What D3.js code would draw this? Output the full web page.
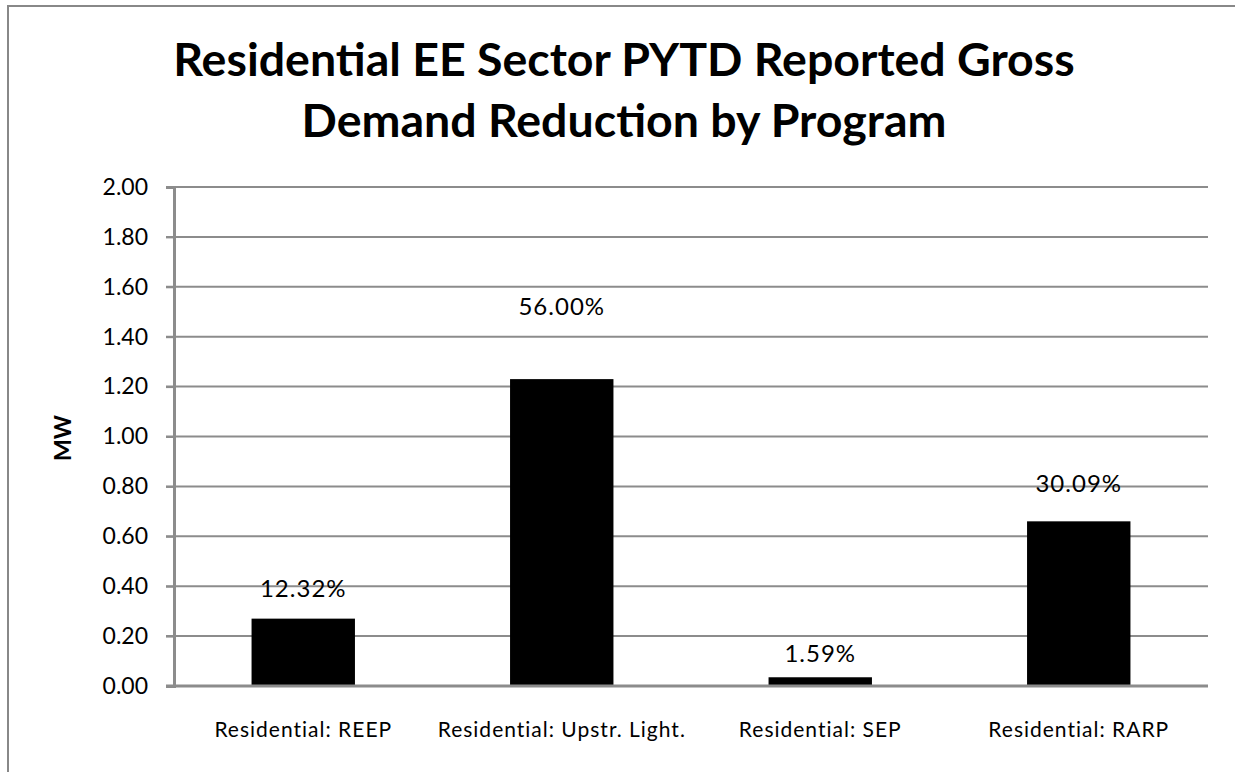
<!DOCTYPE html>
<html><head><meta charset="utf-8">
<script src="https://cdn.jsdelivr.net/npm/d3@7"></script>
<style>html,body{margin:0;padding:0;background:#fff;}svg{display:block;}</style>
</head><body>
<svg id="c" width="1235" height="772"></svg>
<script>
const categories = ["Residential: REEP", "Residential: Upstr. Light.", "Residential: SEP", "Residential: RARP"];
const values = [0.27, 1.23, 0.035, 0.66];
const percentLabels = ["12.32%", "56.00%", "1.59%", "30.09%"];
const labelAt = [0.39, 1.52, 0.13, 0.81];
const yTicks = [0, 0.2, 0.4, 0.6, 0.8, 1.0, 1.2, 1.4, 1.6, 1.8, 2.0];
const titleLines = ["Residential EE Sector PYTD Reported Gross", "Demand Reduction by Program"];
const yTitle = "MW";

const FONT = "Lato, 'Open Sans', sans-serif";
const svg = d3.select("#c");
const m = {left: 174, right: 1208, top: 187, bottom: 686};

// outer chart border (top & left visible)
svg.append("rect").attr("x", 8).attr("y", 6).attr("width", 1240).attr("height", 800)
  .attr("fill", "none").attr("stroke", "#888").attr("stroke-width", 2);

const x = d3.scaleBand().domain(categories).range([m.left, m.right]).paddingInner(0.6).paddingOuter(0.3);
const y = d3.scaleLinear().domain([0, 2]).range([m.bottom, m.top]);

// gridlines
svg.append("g").selectAll("line").data(yTicks.filter(d => d > 0)).join("line")
  .attr("x1", m.left - 8).attr("x2", m.right)
  .attr("y1", d => y(d)).attr("y2", d => y(d))
  .attr("stroke", "#8c8c8c").attr("stroke-width", 2);

// y axis
const yAxis = d3.axisLeft(y).tickValues(yTicks).tickFormat(d3.format(".2f")).tickSize(8).tickPadding(18);
const gy = svg.append("g").attr("transform", `translate(${m.left},0)`).call(yAxis);
gy.select(".domain").attr("stroke", "#8c8c8c").attr("stroke-width", 3);
gy.selectAll(".tick line").attr("stroke", "#8c8c8c").attr("stroke-width", 2);
gy.selectAll(".tick text").attr("font-family", FONT).attr("font-size", 23).attr("fill", "#000");

// bars
svg.append("g").selectAll("rect").data(values).join("rect")
  .attr("x", (d, i) => x(categories[i])).attr("width", x.bandwidth())
  .attr("y", d => y(d)).attr("height", d => y(0) - y(d))
  .attr("fill", "#000");

// x axis baseline
const xAxis = d3.axisBottom(x).tickSize(0).tickPadding(36);
const gx = svg.append("g").attr("transform", `translate(0,${m.bottom})`).call(xAxis);
gx.select(".domain").attr("stroke", "#8c8c8c").attr("stroke-width", 3).attr("d", `M${m.left - 8},0H${m.right}`);
gx.selectAll(".tick text").attr("font-family", FONT).attr("font-size", 21)
  .attr("letter-spacing", "1px").attr("fill", "#000");

// data labels
svg.append("g").selectAll("text").data(percentLabels).join("text")
  .attr("x", (d, i) => x(categories[i]) + x.bandwidth() / 2)
  .attr("y", (d, i) => y(labelAt[i]))
  .attr("dy", "0.35em").attr("text-anchor", "middle")
  .attr("font-family", FONT).attr("font-size", 24).attr("letter-spacing", "1px").attr("fill", "#000")
  .text(d => d);

// title
svg.append("g").selectAll("text").data(titleLines).join("text")
  .attr("x", 624).attr("y", (d, i) => 76 + i * 61)
  .attr("text-anchor", "middle").attr("font-family", FONT).attr("font-weight", "bold")
  .attr("font-size", 46.5).attr("fill", "#000").text(d => d);

// y title
svg.append("text").attr("transform", "translate(71,438) rotate(-90)")
  .attr("text-anchor", "middle").attr("font-family", FONT).attr("font-weight", "bold")
  .attr("font-size", 23).attr("fill", "#000").text(yTitle);
</script>
</body></html>
